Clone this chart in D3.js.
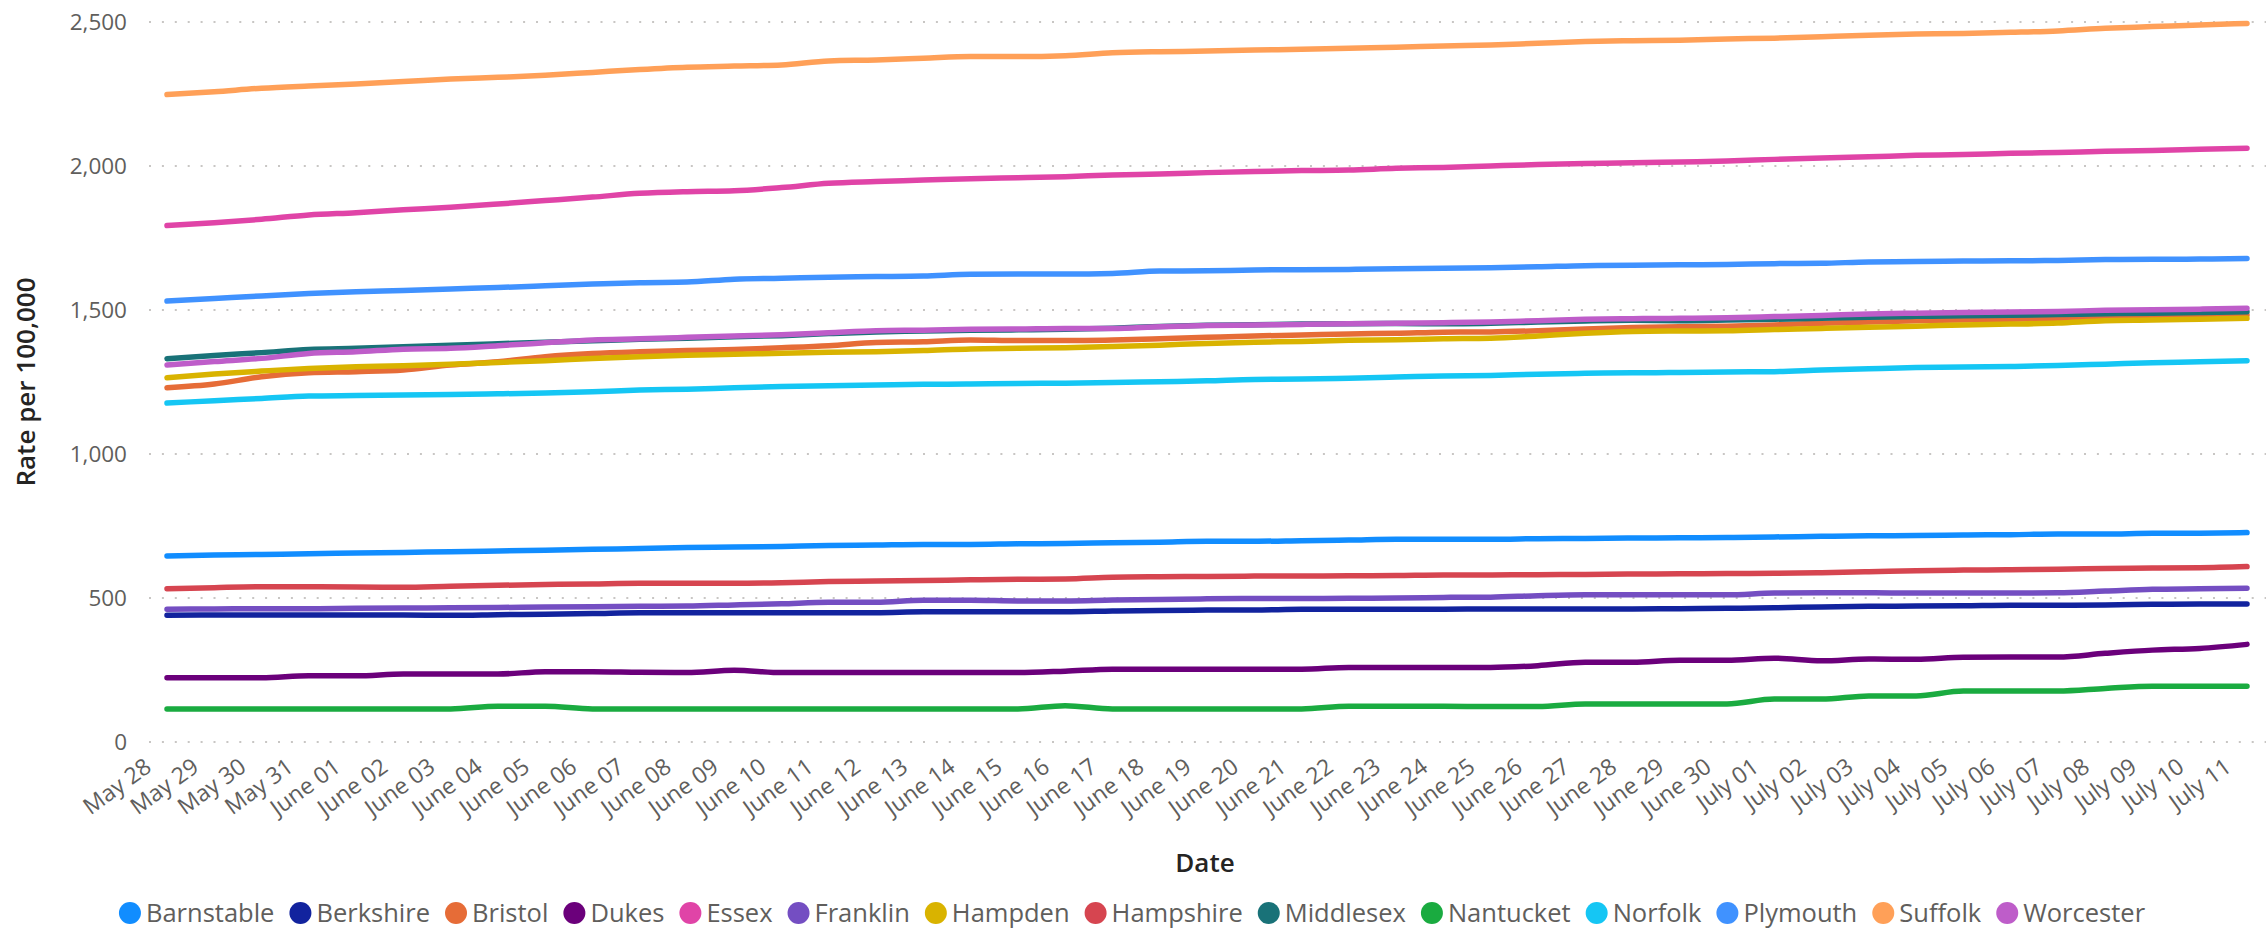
<!DOCTYPE html>
<html lang="en">
<head>
  <meta charset="utf-8">
  <title>Rate per 100,000 by county</title>
  <style>
    body { margin: 0; background: #fff; }
    svg { font-family: "Open Sans", "Noto Sans", sans-serif; }
    .tick-label { fill: #605E5C; }
    .axis-title { fill: #252423; font-weight: 600; }
  </style>
</head>
<body>
  <div id="chart"></div>

  <script src="https://d3js.org/d3.v7.min.js"></script>
  <script>
const dates = [
  "May 28", "May 29", "May 30", "May 31",
  "June 01", "June 02", "June 03", "June 04", "June 05", "June 06", "June 07", "June 08", "June 09", "June 10",
  "June 11", "June 12", "June 13", "June 14", "June 15", "June 16", "June 17", "June 18", "June 19", "June 20",
  "June 21", "June 22", "June 23", "June 24", "June 25", "June 26", "June 27", "June 28", "June 29", "June 30",
  "July 01", "July 02", "July 03", "July 04", "July 05", "July 06", "July 07", "July 08", "July 09", "July 10", "July 11"
];

const counties = ["Barnstable", "Berkshire", "Bristol", "Dukes", "Essex", "Franklin", "Hampden",
                  "Hampshire", "Middlesex", "Nantucket", "Norfolk", "Plymouth", "Suffolk", "Worcester"];

const yTicks = [0, 500, 1000, 1500, 2000, 2500];

// rate per 100,000, one value per date
const barnstable = [646, 649, 651, 654, 656, 658, 661, 663, 666, 669, 672, 675, 677, 679, 682, 684, 686, 686, 688, 689, 692, 694, 697, 697, 699, 701, 704, 704, 704, 706, 707, 708, 709, 710, 712, 714, 716, 717, 719, 720, 722, 722, 725, 725, 727];
const berkshire = [440, 441, 441, 441, 441, 441, 440, 442, 444, 446, 449, 449, 449, 449, 449, 449, 452, 452, 452, 452, 455, 457, 458, 458, 461, 461, 461, 461, 462, 462, 462, 462, 463, 464, 466, 469, 471, 472, 473, 475, 475, 476, 478, 479, 479];
const bristol = [1230, 1243, 1268, 1282, 1286, 1292, 1309, 1320, 1338, 1349, 1355, 1359, 1363, 1369, 1376, 1387, 1390, 1396, 1394, 1394, 1396, 1400, 1405, 1410, 1413, 1417, 1419, 1423, 1424, 1428, 1434, 1439, 1442, 1444, 1448, 1454, 1458, 1463, 1465, 1468, 1471, 1474, 1477, 1479, 1483];
const dukes = [223, 223, 223, 230, 230, 236, 236, 236, 244, 244, 242, 241, 249, 241, 241, 241, 241, 241, 241, 246, 253, 253, 253, 253, 253, 259, 259, 259, 259, 265, 277, 277, 284, 284, 291, 282, 288, 287, 294, 295, 295, 308, 319, 325, 339];
const essex = [1793, 1803, 1815, 1830, 1838, 1848, 1857, 1868, 1880, 1892, 1905, 1911, 1914, 1925, 1940, 1946, 1951, 1956, 1959, 1963, 1969, 1972, 1977, 1981, 1984, 1986, 1992, 1995, 2000, 2005, 2009, 2011, 2014, 2017, 2023, 2028, 2032, 2037, 2040, 2044, 2047, 2051, 2054, 2058, 2062];
const franklin = [461, 462, 463, 463, 464, 465, 466, 467, 469, 470, 471, 472, 476, 480, 485, 485, 492, 492, 490, 490, 493, 495, 497, 498, 498, 499, 500, 502, 503, 508, 511, 511, 511, 511, 517, 518, 518, 517, 517, 517, 518, 524, 530, 532, 534];
const hampden = [1265, 1278, 1288, 1297, 1303, 1306, 1312, 1318, 1324, 1332, 1338, 1343, 1346, 1350, 1353, 1355, 1359, 1365, 1367, 1369, 1373, 1378, 1384, 1388, 1391, 1395, 1397, 1400, 1402, 1410, 1419, 1425, 1427, 1428, 1432, 1436, 1440, 1444, 1448, 1451, 1455, 1463, 1465, 1468, 1471];
const hampshire = [532, 536, 539, 539, 538, 537, 541, 544, 547, 549, 551, 551, 551, 553, 557, 559, 561, 563, 565, 566, 572, 574, 575, 576, 576, 577, 578, 580, 580, 581, 582, 583, 584, 585, 586, 588, 591, 595, 597, 598, 600, 602, 604, 605, 609];
const middlesex = [1331, 1342, 1352, 1363, 1367, 1372, 1378, 1383, 1388, 1393, 1398, 1402, 1407, 1411, 1418, 1424, 1427, 1430, 1431, 1433, 1437, 1443, 1447, 1449, 1451, 1452, 1453, 1452, 1454, 1458, 1462, 1464, 1463, 1465, 1468, 1471, 1475, 1478, 1480, 1482, 1484, 1487, 1489, 1491, 1494];
const nantucket = [115, 115, 115, 115, 115, 115, 115, 124, 124, 115, 115, 115, 115, 115, 115, 115, 115, 115, 115, 126, 115, 115, 115, 115, 115, 124, 124, 124, 123, 123, 132, 132, 132, 132, 149, 149, 160, 160, 177, 177, 177, 186, 194, 194, 194];
const norfolk = [1177, 1185, 1193, 1201, 1203, 1205, 1207, 1209, 1212, 1216, 1222, 1225, 1230, 1234, 1237, 1240, 1242, 1243, 1245, 1246, 1248, 1251, 1254, 1259, 1260, 1263, 1267, 1271, 1273, 1277, 1280, 1282, 1283, 1285, 1286, 1292, 1296, 1300, 1302, 1304, 1307, 1312, 1317, 1320, 1324];
const plymouth = [1531, 1540, 1549, 1557, 1563, 1568, 1573, 1578, 1584, 1590, 1595, 1597, 1607, 1610, 1614, 1616, 1618, 1624, 1625, 1625, 1627, 1635, 1636, 1639, 1640, 1641, 1643, 1645, 1647, 1650, 1654, 1655, 1657, 1658, 1661, 1662, 1667, 1668, 1670, 1671, 1672, 1675, 1676, 1677, 1679];
const suffolk = [2248, 2258, 2270, 2278, 2285, 2293, 2302, 2308, 2315, 2325, 2335, 2343, 2347, 2351, 2365, 2368, 2374, 2380, 2380, 2383, 2393, 2397, 2399, 2403, 2405, 2409, 2412, 2417, 2420, 2426, 2432, 2435, 2437, 2441, 2444, 2449, 2454, 2458, 2460, 2464, 2469, 2478, 2484, 2490, 2495];
const worcester = [1309, 1321, 1332, 1349, 1355, 1364, 1367, 1376, 1386, 1396, 1400, 1405, 1410, 1414, 1421, 1428, 1430, 1433, 1434, 1436, 1436, 1442, 1446, 1448, 1450, 1452, 1454, 1456, 1458, 1463, 1468, 1470, 1471, 1473, 1477, 1481, 1486, 1489, 1491, 1493, 1495, 1499, 1501, 1503, 1506];

const colors = ["#118DFF", "#12239E", "#E66C37", "#6B007B", "#E044A7", "#744EC2", "#D9B300",
                "#D64550", "#197278", "#1AAB40", "#15C6F4", "#4092FF", "#FFA058", "#BE5DC9"];

const seriesValues = [barnstable, berkshire, bristol, dukes, essex, franklin, hampden,
                      hampshire, middlesex, nantucket, norfolk, plymouth, suffolk, worcester];

const series = counties.map((name, i) => ({
    name: name,
    color: colors[i],
    values: seriesValues[i].map((v, j) => ({ date: dates[j], value: v }))
}));

const width = 2268, height = 932;

const x = d3.scalePoint().domain(dates).range([167, 2247]);
const y = d3.scaleLinear().domain([0, 2500]).range([742, 22]);

const svg = d3.select("#chart")
    .append("svg")
    .attr("width", width)
    .attr("height", height);

// dotted gridlines
svg.append("g")
    .selectAll("line")
    .data(yTicks)
    .enter()
    .append("line")
    .attr("x1", 149)
    .attr("x2", 2266)
    .attr("y1", d => y(d))
    .attr("y2", d => y(d))
    .attr("stroke", "#C8C6C4")
    .attr("stroke-width", 2)
    .attr("stroke-dasharray", "2,10.9");

// y axis labels
svg.append("g")
    .selectAll("text")
    .data(yTicks)
    .enter()
    .append("text")
    .attr("class", "tick-label")
    .attr("x", 127)
    .attr("y", d => y(d))
    .attr("dy", 8)
    .attr("text-anchor", "end")
    .style("font-size", "22.5px")
    .text(d => d3.format(",")(d));

// x axis labels, rotated
svg.append("g")
    .selectAll("text")
    .data(dates)
    .enter()
    .append("text")
    .attr("class", "tick-label")
    .attr("text-anchor", "end")
    .attr("transform", d => `translate(${x(d) - 14},770) rotate(-36)`)
    .style("font-size", "23px")
    .text(d => d);

// axis titles
svg.append("text")
    .attr("class", "axis-title")
    .attr("text-anchor", "middle")
    .attr("transform", "translate(35,382) rotate(-90)")
    .style("font-size", "26px")
    .text("Rate per 100,000");

svg.append("text")
    .attr("class", "axis-title")
    .attr("text-anchor", "middle")
    .attr("x", 1205)
    .attr("y", 872)
    .style("font-size", "26px")
    .text("Date");

// lines
const line = d3.line()
    .x(d => x(d.date))
    .y(d => y(d.value))
    .curve(d3.curveMonotoneX);

svg.append("g")
    .selectAll("path")
    .data(series)
    .enter()
    .append("path")
    .attr("d", d => line(d.values))
    .attr("fill", "none")
    .attr("stroke", d => d.color)
    .attr("stroke-width", 5.5)
    .attr("stroke-linecap", "round")
    .attr("stroke-linejoin", "round");

// legend
const legend = svg.append("g");
let lx = 0;
series.forEach(s => {
    const g = legend.append("g").attr("transform", `translate(${lx},0)`);
    g.append("circle")
        .attr("cx", 11)
        .attr("cy", 0)
        .attr("r", 11)
        .attr("fill", s.color);
    const t = g.append("text")
        .attr("class", "tick-label")
        .attr("x", 27)
        .attr("y", 9)
        .style("font-size", "25.5px")
        .text(s.name);
    lx += 27 + t.node().getComputedTextLength() + 15;
});
const legendWidth = lx - 15;
legend.attr("transform", `translate(${1132 - legendWidth / 2},913)`);
  </script>
</body>
</html>
